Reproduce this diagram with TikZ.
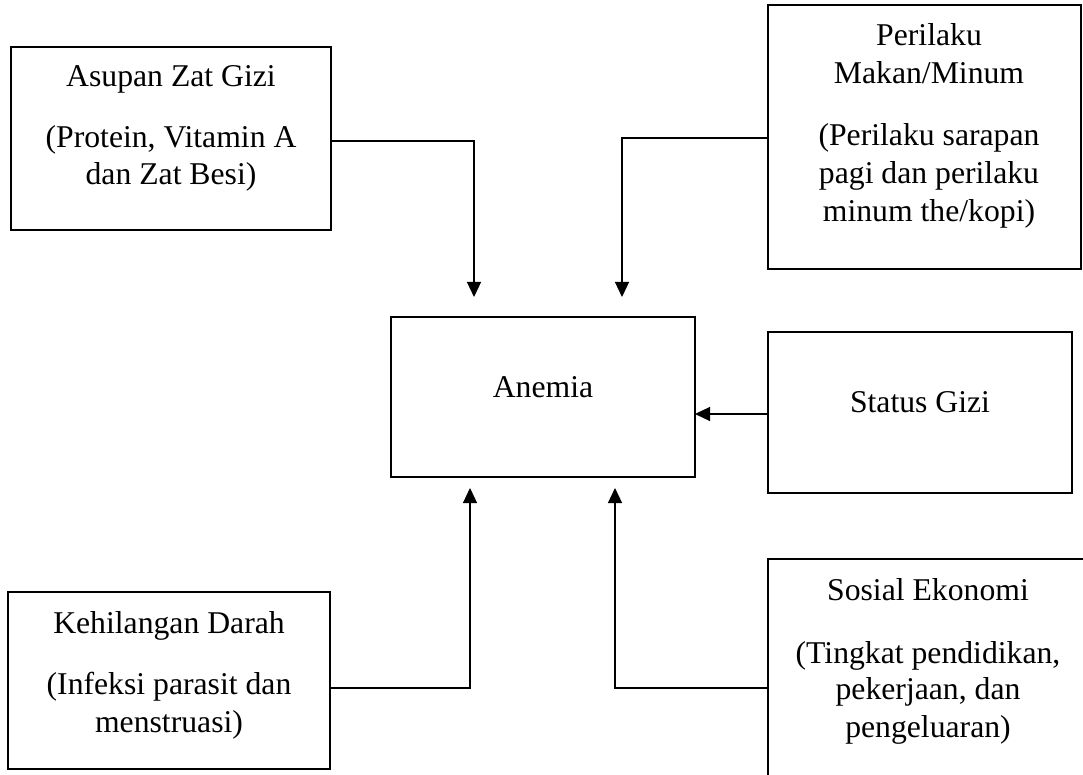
\documentclass[tikz,border=0pt]{standalone}
\usepackage{fontspec}
\setmainfont{Liberation Serif}
\usetikzlibrary{arrows.meta,calc}
\begin{document}
\begin{tikzpicture}[x=1pt,y=-1pt,
  boxnode/.style={draw=black,line width=1.3pt,inner sep=0pt,outer sep=0pt},
  txt/.style={anchor=base,inner sep=0pt,font=\fontsize{31.7}{38}\selectfont},
  conn/.style={line width=1.2pt,-{Triangle[length=15pt,width=14pt]}},
  edge/.style={line width=1.3pt}]
\useasboundingbox[fill=white] (0,0) rectangle (1083,775);
% boxes
\node[boxnode,minimum width=320pt,minimum height=183pt] (asupan) at (171,138.5) {};
\node[boxnode,minimum width=313pt,minimum height=264pt] (perilaku) at (924.5,137) {};
\node[boxnode,minimum width=304pt,minimum height=160pt] (anemia) at (543,397) {};
\node[boxnode,minimum width=304pt,minimum height=161pt] (status) at (920,412.5) {};
\node[boxnode,minimum width=322pt,minimum height=177pt] (kehilangan) at (169,680.5) {};
\node[inner sep=0pt,outer sep=0pt,minimum width=340pt,minimum height=250pt] (sosial) at (938,684) {};
\draw[edge] (sosial.south west) |- (sosial.north east);
% texts
\node[txt] (t1a) at (171,87) {Asupan Zat Gizi};
\node[txt] (t1b) at (171,148) {(Protein, Vitamin A};
\node[txt] (t1c) at (171,185) {dan Zat Besi)};
\node[txt] (t2a) at (929,46) {Perilaku};
\node[txt] (t2b) at (929,84) {Makan/Minum};
\node[txt] (t2c) at (929,146) {(Perilaku sarapan};
\node[txt] (t2d) at (929,184) {pagi dan perilaku};
\node[txt] (t2e) at (929,222) {minum the/kopi)};
\node[txt] (t3) at (543,397) {Anemia};
\node[txt] (t4) at (920,412) {Status Gizi};
\node[txt] (t5a) at (169,633) {Kehilangan Darah};
\node[txt] (t5b) at (169,694) {(Infeksi parasit dan};
\node[txt] (t5c) at (169,732) {menstruasi)};
\node[txt] (t6a) at (928,600) {Sosial Ekonomi};
\node[txt] (t6b) at (928,663) {(Tingkat pendidikan,};
\node[txt] (t6c) at (928,699) {pekerjaan, dan};
\node[txt] (t6d) at (928,737) {pengeluaran)};
% connector ends
\coordinate (e1) at (474,297);
\coordinate (e2) at (622,297);
\coordinate (e4) at (470,488);
\coordinate (e5) at (615,488);
% connectors
\draw[conn] ([yshift=-2.5pt]asupan.east) -| (e1);
\draw[conn] ([yshift=-1pt]perilaku.west) -| (e2);
\draw[conn] ([yshift=-1.5pt]status.west) -- ([yshift=-1.5pt]status.west -| anemia.east);
\draw[conn] ([yshift=-7.5pt]kehilangan.east) -| (e4);
\draw[conn] (sosial.west |- 0,688) -| (e5);
\end{tikzpicture}
\end{document}
